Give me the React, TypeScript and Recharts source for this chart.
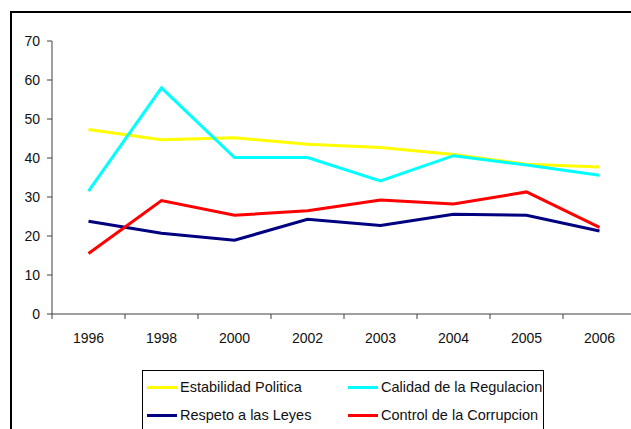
import { LineChart, Line, XAxis, YAxis } from "recharts";

const years = ["1996", "1998", "2000", "2002", "2003", "2004", "2005", "2006"];
const estabilidad = [47.3, 44.7, 45.2, 43.5, 42.7, 40.9, 38.4, 37.7];
const calidad = [31.5, 58.0, 40.1, 40.1, 34.1, 40.6, 38.2, 35.6];
const respeto = [23.8, 20.7, 18.9, 24.3, 22.7, 25.6, 25.3, 21.3];
const corrupcion = [15.5, 29.1, 25.3, 26.5, 29.2, 28.2, 31.3, 22.2];
const yTicks = [0, 10, 20, 30, 40, 50, 60, 70];

const series = [
  { key: "estabilidad", name: "Estabilidad Politica", color: "#FFFF00", values: estabilidad },
  { key: "calidad", name: "Calidad de la Regulacion", color: "#00FFFF", values: calidad },
  { key: "respeto", name: "Respeto a las Leyes", color: "#000080", values: respeto },
  { key: "corrupcion", name: "Control de la Corrupcion", color: "#FF0000", values: corrupcion },
];

const data = years.map((year, i) => {
  const row: Record<string, string | number> = { year };
  series.forEach((s) => (row[s.key] = s.values[i]));
  return row;
});

const FONT = "'Liberation Sans', Arial, sans-serif";
const axisColor = "#404040";
const X_TICK_SIZE = 5;
const X_TICK_MARGIN = 14;

// Excel style: labels in the middle of each category, tick marks on the boundaries
function YearTick(props: any) {
  const { x, y, payload, index } = props;
  const half = payload.offset || 0;
  const y0 = y - X_TICK_MARGIN - X_TICK_SIZE;
  const y1 = y - X_TICK_MARGIN;
  return (
    <g>
      <line x1={x - half} x2={x - half} y1={y0} y2={y1} stroke={axisColor} />
      {index === years.length - 1 && (
        <line x1={x + half} x2={x + half} y1={y0} y2={y1} stroke={axisColor} />
      )}
      <text x={x} y={y} dy="0.71em" textAnchor="middle" fill="#111" fontSize={14} fontFamily={FONT}>
        {payload.value}
      </text>
    </g>
  );
}

export default function App() {
  return (
    <div
      style={{
        position: "fixed",
        left: 0,
        top: 0,
        width: 631,
        height: 429,
        overflow: "hidden",
        background: "#fff",
        fontFamily: FONT,
      }}
    >
      <div
        style={{
          position: "absolute",
          left: 10,
          top: 11,
          width: 700,
          height: 500,
          border: "2px solid #000",
        }}
      />
      <div style={{ position: "absolute", left: 0, top: 0 }}>
        <LineChart
          width={700}
          height={364}
          data={data}
          margin={{ top: 41, right: 64, bottom: 0, left: 0 }}
        >
          <YAxis
            type="number"
            domain={[0, 70]}
            ticks={yTicks}
            width={52}
            interval={0}
            stroke={axisColor}
            tickSize={5}
            tickMargin={7}
            tick={{ fill: "#111", fontSize: 14, fontFamily: FONT }}
          />
          <XAxis
            dataKey="year"
            scale="band"
            height={50}
            stroke={axisColor}
            tickLine={false}
            interval={0}
            tickSize={X_TICK_SIZE}
            tickMargin={X_TICK_MARGIN}
            tick={<YearTick />}
          />
          {series.map((s) => (
            <Line
              key={s.key}
              type="linear"
              dataKey={s.key}
              name={s.name}
              stroke={s.color}
              strokeWidth={3}
              dot={false}
              isAnimationActive={false}
            />
          ))}
        </LineChart>
      </div>
      <div
        style={{
          position: "absolute",
          left: 142,
          top: 370,
          width: 402,
          height: 70,
          border: "1px solid #000",
          background: "#fff",
          display: "grid",
          gridTemplateColumns: "201px 201px",
          gridAutoRows: "28px",
          paddingTop: 2,
          boxSizing: "border-box",
        }}
      >
        {series.map((s) => (
          <div
            key={s.key}
            style={{ display: "flex", alignItems: "center", paddingLeft: 4, fontSize: 14.5, color: "#111" }}
          >
            <span style={{ display: "inline-block", width: 30, height: 3, background: s.color, marginRight: 3 }} />
            <span>{s.name}</span>
          </div>
        ))}
      </div>
    </div>
  );
}
